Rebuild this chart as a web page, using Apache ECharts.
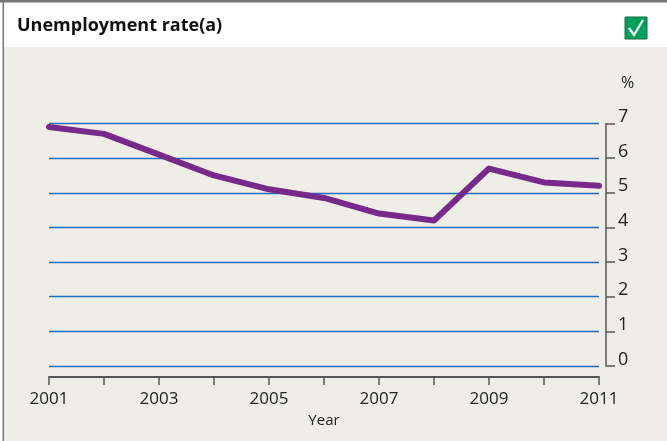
<!DOCTYPE html>
<html>
<head>
<meta charset="utf-8">
<style>
  html, body { margin: 0; padding: 0; background: #ffffff; }
  #chart { width: 667px; height: 441px; }
</style>
<script src="https://cdn.jsdelivr.net/npm/echarts@6/dist/echarts.min.js"></script>
</head>
<body>
<div id="chart"></div>
<script>
// Unemployment rate, per cent, by year
const years = ['2001','2002','2003','2004','2005','2006','2007','2008','2009','2010','2011'];
const unemploymentRate = [6.9, 6.7, 6.1, 5.5, 5.1, 4.85, 4.4, 4.2, 5.7, 5.3, 5.2];
const yTicks = [0, 1, 2, 3, 4, 5, 6, 7];

const FONT = '"Open Sans", "Noto Sans", sans-serif';
const axisGrey = '#555555';

const chart = echarts.init(document.getElementById('chart'), null, { renderer: 'canvas' });

chart.setOption({
  backgroundColor: '#ffffff',
  animation: false,
  graphic: [
    // panel background below the title band
    { type: 'rect', z: -10, shape: { x: 4, y: 47, width: 663, height: 394 }, style: { fill: '#efeee6' } },
    // frame: top rule and left rule
    { type: 'rect', z: 10, shape: { x: 0, y: 0, width: 667, height: 2.5 }, style: { fill: '#777777' } },
    { type: 'rect', z: 10, shape: { x: 2.5, y: 0, width: 1.5, height: 441 }, style: { fill: '#777777' } },
    // title
    { type: 'text', left: 17, top: 17, style: { text: 'Unemployment rate(a)', font: 'bold 18px ' + FONT, fill: '#111111' } },
    // tick box icon
    { type: 'rect', shape: { x: 625, y: 17, width: 22, height: 22 }, style: { fill: '#00a25a', stroke: '#1f6b45', lineWidth: 1 } },
    { type: 'polyline', shape: { points: [[629, 28], [634, 35], [643, 20]] }, style: { stroke: '#ffffff', lineWidth: 2.2, fill: null } }
  ],
  grid: { left: 49, right: 68, top: 123.5, bottom: 75, containLabel: false },
  xAxis: {
    type: 'category',
    data: years,
    boundaryGap: false,
    offset: 11,
    name: 'Year',
    nameLocation: 'middle',
    nameGap: 36,
    nameTextStyle: { fontFamily: FONT, fontSize: 15, color: '#222222' },
    axisLine: { show: true, onZero: false, lineStyle: { color: axisGrey, width: 2 } },
    axisTick: { show: true, inside: false, length: 8, interval: 0, lineStyle: { color: axisGrey, width: 1.5 } },
    axisLabel: { interval: 1, margin: 14, fontFamily: FONT, fontSize: 17, color: '#222222' },
    splitLine: { show: false }
  },
  yAxis: {
    type: 'value',
    position: 'right',
    min: 0,
    max: 7,
    interval: 1,
    offset: 7,
    name: '%',
    nameLocation: 'end',
    nameGap: 32,
    nameTextStyle: { fontFamily: FONT, fontSize: 16, color: '#222222', align: 'left', padding: [0, 0, 0, 15] },
    axisLine: { show: true, lineStyle: { color: axisGrey, width: 1.5 } },
    axisTick: { show: true, inside: false, length: 9, lineStyle: { color: axisGrey, width: 1.5 } },
    axisLabel: {
      margin: 12,
      fontFamily: FONT,
      fontSize: 18,
      lineHeight: 13,
      color: '#222222',
      verticalAlign: 'bottom',
      formatter: v => (yTicks.indexOf(v) >= 0 ? String(v) : '')
    },
    splitLine: { show: true, lineStyle: { color: '#1a6ec0', width: 1.3 } }
  },
  series: [{
    type: 'line',
    data: unemploymentRate,
    symbol: 'none',
    lineStyle: { color: '#782a8a', width: 6, cap: 'round', join: 'round' },
    z: 5
  }]
});
</script>
</body>
</html>
